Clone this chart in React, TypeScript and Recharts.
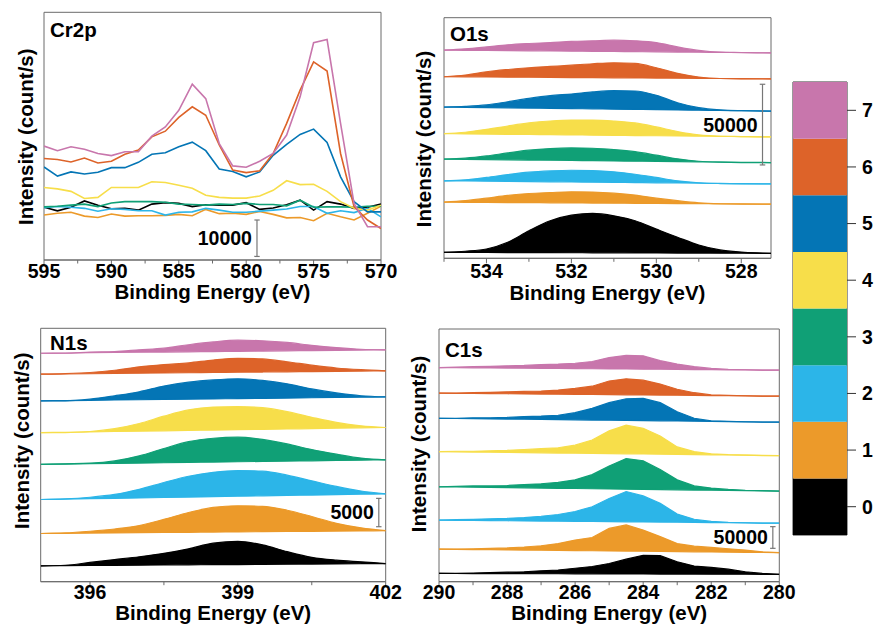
import React from 'react';
import { ComposedChart, Line, Area, XAxis, YAxis, ReferenceLine, ReferenceArea, BarChart, Bar } from 'recharts';

const FONT = "'Liberation Sans', Arial, Helvetica, sans-serif";
const AXIS = '#6b6b6b';

const levelColors = ['#000000', '#EC9A2A', '#2CB5E8', '#10A076', '#F7DE4A', '#0475B5', '#DD6329', '#C876AC'];
const levelLabels = ['0', '1', '2', '3', '4', '5', '6', '7'];

// Cr2p, intensity in thousands of counts/s
const crEnergy = [595, 594, 593, 592, 591, 590, 589, 588, 587, 586, 585, 584, 583, 582, 581, 580, 579, 578, 577, 576, 575, 574, 573, 572, 571, 570];
const cr2p0 = [14.9, 13.9, 14.9, 16.7, 15.5, 14.5, 14.6, 14.1, 15.8, 16.2, 16.0, 15.1, 15.6, 15.5, 15.5, 16.2, 14.3, 14.7, 15.6, 16.9, 14.1, 16.5, 15.8, 14.6, 14.9, 15.8];
const cr2p1 = [12.7, 13.2, 13.5, 12.4, 12.0, 13.0, 12.4, 12.5, 12.5, 12.6, 12.9, 12.5, 14.3, 13.1, 13.2, 12.9, 13.7, 12.9, 11.9, 12.0, 11.1, 13.2, 12.2, 11.3, 13.2, 15.2];
const cr2p2 = [14.8, 15.1, 14.9, 14.6, 13.8, 14.5, 14.3, 13.9, 13.9, 12.7, 13.5, 13.6, 14.6, 14.1, 13.5, 13.5, 13.8, 14.1, 14.4, 15.1, 15.1, 13.2, 13.9, 13.4, 14.6, 12.2];
const cr2p3 = [15.0, 15.2, 15.5, 15.8, 15.1, 16.1, 16.5, 16.5, 16.5, 16.3, 15.8, 15.7, 15.5, 15.8, 15.7, 16.0, 15.7, 15.7, 15.3, 16.9, 14.9, 15.0, 15.0, 14.9, 15.2, 15.2];
const cr2p4 = [20.5, 20.1, 19.4, 17.4, 17.7, 20.5, 20.5, 20.5, 22.1, 21.9, 21.1, 20.3, 18.3, 17.7, 17.5, 17.5, 18.1, 19.7, 22.4, 21.3, 21.4, 19.4, 16.5, 14.6, 14.1, 15.5];
const cr2p5 = [26.3, 23.7, 24.9, 24.3, 24.8, 26.1, 26.1, 27.6, 29.9, 30.3, 32.0, 33.3, 30.9, 25.7, 25.0, 23.5, 24.9, 29.6, 32.7, 35.5, 37.0, 33.2, 23.5, 16.5, 13.6, 13.6];
const cr2p6 = [28.7, 28.4, 27.7, 28.8, 27.4, 27.9, 29.9, 31.1, 34.8, 36.4, 40.3, 43.3, 40.9, 32.5, 25.4, 24.7, 25.2, 30.1, 38.6, 48.0, 56.0, 53.4, 30.1, 15.1, 11.3, 8.9];
const cr2p7 = [32.2, 30.9, 32.0, 31.3, 30.1, 29.5, 30.6, 30.6, 35.0, 37.6, 42.3, 49.7, 45.6, 32.9, 26.6, 26.2, 27.9, 30.1, 35.3, 46.1, 61.4, 62.3, 38.6, 16.0, 9.4, 9.4];

// O1s
const oEnergy = [535, 534.5, 534, 533.5, 533, 532.5, 532, 531.5, 531, 530.5, 530, 529.5, 529, 528.5, 528, 527.5, 527.3];
const o1s0 = [3.7, 4.4, 5.8, 10.0, 17.2, 23.4, 26.9, 28.0, 26.5, 23.4, 18.2, 13.1, 8.3, 5.2, 3.9, 3.3, 3.1];
const o1s1 = [35.0, 35.9, 37.5, 39.2, 40.4, 41.0, 41.5, 41.3, 40.6, 39.4, 37.5, 35.9, 34.6, 34.0, 33.8, 33.8, 33.8];
const o1s2 = [48.3, 48.9, 50.4, 52.2, 53.7, 54.5, 54.9, 54.7, 53.9, 52.4, 50.4, 48.3, 47.1, 46.6, 46.4, 46.4, 46.4];
const o1s3 = [61.8, 62.4, 63.8, 65.7, 67.4, 68.4, 68.8, 68.6, 67.8, 66.5, 64.3, 62.0, 60.5, 59.9, 59.7, 59.7, 59.7];
const o1s4 = [77.7, 78.6, 80.4, 82.5, 84.4, 85.6, 86.2, 86.2, 85.6, 84.4, 81.9, 79.0, 76.9, 76.1, 75.9, 75.7, 75.7];
const o1s5 = [94.3, 94.7, 95.6, 97.6, 99.7, 101.4, 102.4, 103.7, 104.5, 104.3, 101.6, 97.0, 93.9, 92.5, 92.0, 91.8, 91.8];
const o1s6 = [113.2, 114.2, 116.3, 117.7, 118.8, 119.6, 120.4, 121.3, 121.9, 121.5, 118.8, 115.3, 113.0, 112.1, 111.9, 111.9, 111.9];
const o1s7 = [129.8, 130.6, 131.8, 133.1, 133.9, 134.5, 135.2, 135.6, 136.0, 135.6, 134.5, 131.8, 129.6, 128.5, 128.3, 128.1, 128.1];

// N1s
const nEnergy = [395, 395.5, 396, 396.5, 397, 397.5, 398, 398.5, 399, 399.5, 400, 400.5, 401, 401.5, 402];
const n1s0 = [2.8, 2.9, 3.4, 3.9, 4.4, 5.0, 5.8, 6.8, 7.1, 6.5, 5.3, 4.3, 3.8, 3.5, 3.2];
const n1s1 = [8.5, 8.6, 8.9, 9.3, 9.9, 11.0, 12.2, 13.1, 13.4, 13.3, 12.6, 11.5, 10.3, 9.5, 9.0];
const n1s2 = [14.5, 14.6, 14.9, 15.4, 16.3, 17.5, 18.6, 19.3, 19.6, 19.5, 18.8, 17.8, 16.8, 16.0, 15.5];
const n1s3 = [20.7, 20.8, 20.9, 21.3, 22.2, 23.5, 24.7, 25.3, 25.5, 25.1, 24.3, 23.3, 22.5, 21.8, 21.5];
const n1s4 = [26.3, 26.3, 26.5, 27.0, 27.9, 29.2, 30.3, 30.8, 30.9, 30.7, 30.0, 29.0, 28.1, 27.5, 27.2];
const n1s5 = [31.9, 31.9, 32.2, 32.8, 33.5, 34.5, 35.2, 35.6, 35.8, 35.5, 34.9, 34.0, 33.3, 32.8, 32.6];
const n1s6 = [36.6, 36.7, 36.9, 37.3, 37.9, 38.3, 38.6, 39.1, 39.4, 39.3, 38.8, 38.2, 37.7, 37.4, 37.2];
const n1s7 = [40.3, 40.3, 40.5, 40.6, 40.9, 41.2, 41.8, 42.3, 42.6, 42.5, 42.2, 41.7, 41.3, 41.0, 40.9];

// C1s
const cEnergy = [290, 289.5, 289, 288.5, 288, 287.5, 287, 286.5, 286, 285.5, 285, 284.5, 284, 283.5, 283, 282.5, 282, 281.5, 281, 280.5, 280];
const c1s0 = [19, 19, 20, 21, 22, 23, 25, 27, 31, 35, 42, 52, 61, 60, 46, 36, 33, 29, 23, 19, 17];
const c1s1 = [75, 75, 76, 77, 78, 80, 83, 88, 96, 102, 123, 131, 119, 104, 88, 82, 79, 76, 73, 69, 67];
const c1s2 = [142, 143, 144, 145, 146, 148, 151, 155, 162, 173, 192, 208, 198, 181, 156, 144, 139, 137, 136, 135, 135];
const c1s3 = [219, 220, 221, 221, 222, 224, 226, 229, 235, 247, 267, 284, 279, 259, 235, 221, 216, 213, 211, 210, 209];
const c1s4 = [300, 301, 301, 302, 303, 305, 307, 309, 315, 327, 348, 361, 354, 336, 311, 300, 295, 293, 292, 291, 291];
const c1s5 = [377, 377, 378, 378, 379, 381, 382, 384, 390, 400, 413, 422, 423, 413, 392, 377, 371, 370, 369, 368, 368];
const c1s6 = [435, 435, 436, 437, 438, 439, 440, 442, 446, 451, 463, 468, 465, 456, 444, 436, 431, 430, 429, 428, 428];
const c1s7 = [494, 495, 496, 497, 498, 499, 501, 502, 504, 508, 517, 522, 521, 510, 502, 496, 492, 490, 489, 488, 488];

// rows for plain lines
function lineRows(xs: number[], series: number[][]) {
  return xs.map((x, i) => {
    const row: any = { x };
    series.forEach((s, k) => { row['s' + k] = s[i]; });
    return row;
  });
}

// rows for filled curves: [straight baseline between the end points, curve]
function areaRows(xs: number[], series: number[][]) {
  const x0 = xs[0];
  const x1 = xs[xs.length - 1];
  return xs.map((x, i) => {
    const row: any = { x };
    series.forEach((s, k) => {
      const base = s[0] + (s[s.length - 1] - s[0]) * (x - x0) / (x1 - x0);
      row['s' + k] = [base, s[i]];
    });
    return row;
  });
}

const near = (list: number[], v: number) => list.some((m) => Math.abs(m - v) < 1e-6);

function makeXTick(majors: number[], labelDy: number) {
  return (p: any) => {
    const v = p.payload.value;
    const major = near(majors, v);
    return (
      <g>
        <line x1={p.x} x2={p.x} y1={p.y} y2={p.y + (major ? 5 : 3.5)} stroke={AXIS} strokeWidth={1} />
        {major ? (
          <text x={p.x} y={p.y + labelDy} textAnchor="middle" fontFamily={FONT} fontWeight="bold" fontSize={19.5} fill="#000">
            {v}
          </text>
        ) : null}
      </g>
    );
  };
}

function makeYTick(majors: number[]) {
  return (p: any) => {
    const major = near(majors, p.payload.value);
    return <line x1={p.x} x2={p.x - (major ? 5 : 3)} y1={p.y} y2={p.y} stroke={AXIS} strokeWidth={1} />;
  };
}

type PanelProps = {
  box: { x: number; y: number; w: number; h: number };
  plot: { l: number; t: number; r: number; b: number };
  rows: any[];
  filled: boolean;
  curve: 'monotone' | 'linear';
  xDomain: [number, number];
  reversed: boolean;
  xMajors: number[];
  xMinors: number[];
  yDomain: [number, number];
  yMajors: number[];
  yMinors: number[];
  tickDy: number;
  title: string;
  titleAt: [number, number];
  yLabelAt: [number, number];
  xLabelAt: [number, number];
  bar: { x: number; y0: number; y1: number; cap: number; text: string };
};

function SpectraPanel(p: PanelProps) {
  const { box, plot } = p;
  const margin = { top: plot.t - box.y, left: plot.l - box.x, right: box.x + box.w - plot.r, bottom: 0 };
  const xHeight = box.y + box.h - plot.b;
  const xTicks = [...p.xMajors, ...p.xMinors].sort((a, b) => a - b);
  const yTicks = [...p.yMajors, ...p.yMinors].sort((a, b) => a - b);
  const txt = { fontFamily: FONT, fontWeight: 'bold' as const, fontSize: 20.5, fill: '#000' };
  return (
    <div style={{ position: 'absolute', left: box.x, top: box.y }}>
      <ComposedChart width={box.w} height={box.h} data={p.rows} margin={margin}>
        <XAxis
          dataKey="x"
          type="number"
          domain={p.xDomain}
          reversed={p.reversed}
          allowDataOverflow
          ticks={xTicks}
          interval={0}
          height={xHeight}
          tickSize={0}
          tickMargin={0}
          tickLine={false}
          axisLine={{ stroke: AXIS }}
          tick={makeXTick(p.xMajors, p.tickDy)}
        />
        <YAxis
          type="number"
          domain={p.yDomain}
          allowDataOverflow
          ticks={yTicks}
          interval={0}
          width={0}
          tickSize={0}
          tickMargin={0}
          tickLine={false}
          axisLine={{ stroke: AXIS }}
          tick={makeYTick(p.yMajors)}
        />
        <ReferenceArea y1={p.yDomain[0]} y2={p.yDomain[1]} fill="none" stroke={AXIS} strokeWidth={1} ifOverflow="visible" />
        {levelColors.map((c, k) =>
          p.filled ? (
            <Area
              key={k}
              dataKey={'s' + k}
              type={p.curve}
              fill={c}
              fillOpacity={1}
              stroke={c}
              strokeWidth={1.2}
              dot={false}
              activeDot={false}
              isAnimationActive={false}
            />
          ) : (
            <Line
              key={k}
              dataKey={'s' + k}
              type={p.curve}
              stroke={c}
              strokeWidth={1.6}
              dot={false}
              activeDot={false}
              isAnimationActive={false}
            />
          )
        )}
        <ReferenceLine
          segment={[{ x: p.bar.x, y: p.bar.y0 }, { x: p.bar.x, y: p.bar.y1 }]}
          stroke="#777"
          strokeWidth={1.2}
          label={{ value: p.bar.text, position: 'left', offset: 5, fontFamily: FONT, fontWeight: 'bold', fontSize: 19.5, fill: '#000' }}
        />
        <ReferenceLine segment={[{ x: p.bar.x - p.bar.cap, y: p.bar.y0 }, { x: p.bar.x + p.bar.cap, y: p.bar.y0 }]} stroke="#777" strokeWidth={1.2} />
        <ReferenceLine segment={[{ x: p.bar.x - p.bar.cap, y: p.bar.y1 }, { x: p.bar.x + p.bar.cap, y: p.bar.y1 }]} stroke="#777" strokeWidth={1.2} />
        <text x={p.titleAt[0] - box.x} y={p.titleAt[1] - box.y} {...txt}>
          {p.title}
        </text>
        <text
          transform={`translate(${p.yLabelAt[0] - box.x},${p.yLabelAt[1] - box.y}) rotate(-90)`}
          textAnchor="middle"
          {...txt}
        >
          Intensity (count/s)
        </text>
        <text x={p.xLabelAt[0] - box.x} y={p.xLabelAt[1] - box.y} textAnchor="middle" {...txt}>
          Binding Energy (eV)
        </text>
      </ComposedChart>
    </div>
  );
}

function ColorScale() {
  const row: any = { name: 'level' };
  levelLabels.forEach((_, i) => { row['l' + i] = 1; });
  const ticks = levelLabels.map((_, i) => i + 0.5);
  return (
    <div style={{ position: 'absolute', left: 780, top: 70 }}>
      <BarChart width={97} height={490} data={[row]} margin={{ top: 12, left: 13, right: 0, bottom: 25 }} barCategoryGap={0} barGap={0}>
        <XAxis dataKey="name" hide />
        <YAxis
          orientation="right"
          type="number"
          domain={[0, 8]}
          ticks={ticks}
          interval={0}
          width={30}
          tickSize={9}
          tickMargin={6}
          tickLine={{ stroke: '#333' }}
          axisLine={false}
          tickFormatter={(v: number) => levelLabels[Math.floor(v)]}
          tick={{ fill: '#000', fontSize: 19.5, fontWeight: 'bold', fontFamily: FONT }}
        />
        {levelColors.map((c, i) => (
          <Bar key={i} dataKey={'l' + i} stackId="scale" fill={c} isAnimationActive={false} />
        ))}
        <ReferenceArea y1={0} y2={8} fill="none" stroke="#333" strokeWidth={1} ifOverflow="visible" />
      </BarChart>
    </div>
  );
}

const range = (a: number, b: number, step: number) => {
  const out: number[] = [];
  for (let v = a; v <= b + 1e-9; v += step) out.push(Math.round(v * 100) / 100);
  return out;
};

export default function App() {
  return (
    <div style={{ position: 'absolute', left: 0, top: 0, width: 877, height: 628, background: '#fff' }}>
      <SpectraPanel
        box={{ x: 0, y: 0, w: 400, h: 310 }}
        plot={{ l: 44, t: 12.3, r: 381, b: 260 }}
        rows={lineRows(crEnergy, [cr2p0, cr2p1, cr2p2, cr2p3, cr2p4, cr2p5, cr2p6, cr2p7])}
        filled={false}
        curve="linear"
        xDomain={[570, 595]}
        reversed
        xMajors={[595, 590, 585, 580, 575, 570]}
        xMinors={[592.5, 587.5, 582.5, 577.5, 572.5]}
        yDomain={[0, 70]}
        yMajors={range(0, 70, 10)}
        yMinors={range(5, 65, 10)}
        tickDy={17.7}
        title="Cr2p"
        titleAt={[50, 37.3]}
        yLabelAt={[33, 136.7]}
        xLabelAt={[212.5, 298.5]}
        bar={{ x: 579.2, y0: 1, y1: 11.3, cap: 0.2, text: '10000' }}
      />
      <SpectraPanel
        box={{ x: 400, y: 0, w: 390, h: 310 }}
        plot={{ l: 444, t: 17.7, r: 771, b: 258.3 }}
        rows={areaRows(oEnergy, [o1s0, o1s1, o1s2, o1s3, o1s4, o1s5, o1s6, o1s7])}
        filled
        curve="monotone"
        xDomain={[527.3, 535]}
        reversed
        xMajors={[534, 532, 530, 528]}
        xMinors={[535, 533, 531, 529]}
        yDomain={[0, 150]}
        yMajors={[0, 50, 100, 150]}
        yMinors={[25, 75, 125]}
        tickDy={19.5}
        title="O1s"
        titleAt={[450, 40.7]}
        yLabelAt={[431, 139]}
        xLabelAt={[607.5, 299.5]}
        bar={{ x: 527.5, y0: 58.2, y1: 108.5, cap: 0.065, text: '50000' }}
      />
      <SpectraPanel
        box={{ x: 400, y: 315, w: 420, h: 313 }}
        plot={{ l: 439, t: 329, r: 779.3, b: 581.7 }}
        rows={areaRows(cEnergy, [c1s0, c1s1, c1s2, c1s3, c1s4, c1s5, c1s6, c1s7])}
        filled
        curve="linear"
        xDomain={[280, 290]}
        reversed
        xMajors={[290, 288, 286, 284, 282, 280]}
        xMinors={[289, 287, 285, 283, 281]}
        yDomain={[0, 583]}
        yMajors={range(27, 577, 50)}
        yMinors={range(52, 552, 50)}
        tickDy={17}
        title="C1s"
        titleAt={[445, 356.7]}
        yLabelAt={[426, 444]}
        xLabelAt={[609.2, 620]}
        bar={{ x: 280.19, y0: 77, y1: 127, cap: 0.08, text: '50000' }}
      />
      <SpectraPanel
        box={{ x: 0, y: 315, w: 420, h: 313 }}
        plot={{ l: 40.7, t: 328.3, r: 385.7, b: 581.7 }}
        rows={areaRows(nEnergy, [n1s0, n1s1, n1s2, n1s3, n1s4, n1s5, n1s6, n1s7])}
        filled
        curve="monotone"
        xDomain={[395, 402]}
        reversed={false}
        xMajors={[396, 399, 402]}
        xMinors={[397.5, 400.5]}
        yDomain={[0, 44.7]}
        yMajors={range(2.4, 42.4, 5)}
        yMinors={range(4.9, 39.9, 5)}
        tickDy={17}
        title="N1s"
        titleAt={[50, 350]}
        yLabelAt={[29, 440.8]}
        xLabelAt={[213.2, 620]}
        bar={{ x: 401.86, y0: 9.7, y1: 14.7, cap: 0.055, text: '5000' }}
      />
      <ColorScale />
    </div>
  );
}
